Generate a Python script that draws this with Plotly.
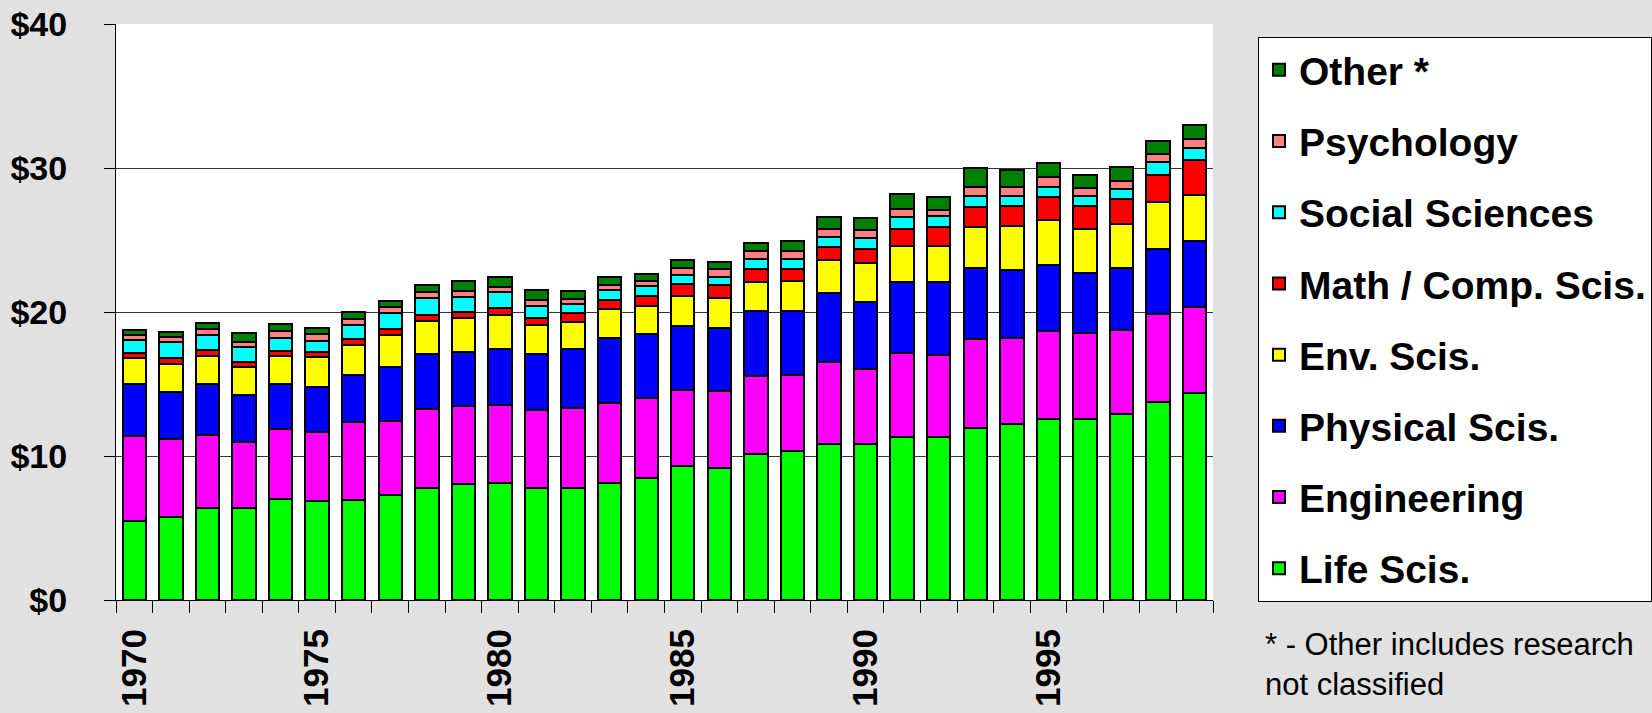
import plotly.graph_objects as go

years = list(range(1970, 2000))

life = [5.49, 5.76, 6.37, 6.37, 6.99, 6.88, 6.92, 7.31, 7.75, 8.08, 8.10, 7.80, 7.80, 8.10, 8.50,
        9.31, 9.17, 10.16, 10.35, 10.83, 10.81, 11.30, 11.30, 11.97, 12.22, 12.59, 12.59, 12.89, 13.75, 14.35]
engineering = [5.88, 5.40, 5.09, 4.60, 4.86, 4.81, 5.42, 5.14, 5.51, 5.39, 5.46, 5.42, 5.56, 5.58, 5.53,
               5.27, 5.32, 5.40, 5.25, 5.72, 5.21, 5.83, 5.69, 6.13, 6.00, 6.09, 5.93, 5.84, 6.13, 5.97]
physical = [3.65, 3.31, 3.52, 3.27, 3.15, 3.10, 3.29, 3.71, 3.80, 3.75, 3.89, 3.89, 4.09, 4.54, 4.47,
            4.47, 4.42, 4.51, 4.47, 4.75, 4.70, 4.98, 5.09, 4.93, 4.70, 4.56, 4.17, 4.30, 4.47, 4.61]
env = [1.81, 1.92, 1.99, 1.92, 1.97, 2.06, 2.06, 2.22, 2.29, 2.34, 2.36, 1.99, 1.88, 1.97, 1.94,
       2.06, 2.06, 2.01, 2.08, 2.29, 2.66, 2.50, 2.50, 2.90, 3.05, 3.13, 3.07, 3.06, 3.29, 3.22]
math_comp = [0.35, 0.39, 0.37, 0.34, 0.34, 0.35, 0.44, 0.44, 0.46, 0.44, 0.44, 0.48, 0.62, 0.67, 0.67,
             0.81, 0.88, 0.93, 0.86, 0.95, 1.00, 1.13, 1.35, 1.38, 1.39, 1.59, 1.62, 1.73, 1.86, 2.38]
social = [0.85, 1.11, 1.09, 1.05, 0.88, 0.81, 0.97, 1.09, 1.14, 1.06, 1.14, 0.86, 0.58, 0.67, 0.70,
          0.67, 0.58, 0.69, 0.69, 0.69, 0.78, 0.83, 0.76, 0.75, 0.70, 0.74, 0.68, 0.70, 0.89, 0.88]
psychology = [0.40, 0.40, 0.41, 0.34, 0.47, 0.46, 0.41, 0.41, 0.44, 0.42, 0.32, 0.39, 0.37, 0.35, 0.34,
              0.49, 0.53, 0.51, 0.51, 0.53, 0.53, 0.58, 0.39, 0.64, 0.64, 0.70, 0.55, 0.60, 0.61, 0.60]
other = [0.32, 0.34, 0.42, 0.67, 0.53, 0.44, 0.49, 0.44, 0.49, 0.67, 0.70, 0.70, 0.54, 0.53, 0.51,
         0.53, 0.54, 0.60, 0.72, 0.86, 0.84, 1.07, 0.93, 1.28, 1.16, 0.97, 0.88, 0.95, 0.90, 1.00]

series_names = ["Life Scis.", "Engineering", "Physical Scis.", "Env. Scis.",
                "Math / Comp. Scis.", "Social Sciences", "Psychology", "Other *"]
series_values = [life, engineering, physical, env, math_comp, social, psychology, other]
series_colors = ["#00ff00", "#ff00ff", "#0000ff", "#ffff00",
                 "#ff0000", "#00ffff", "#ff8080", "#008000"]

y_ticks = [0, 10, 20, 30, 40]
x_label_years = [1970, 1975, 1980, 1985, 1990, 1995]
footnote = "* - Other includes research<br>not classified"

FONT = "Liberation Sans, Arial, sans-serif"
BG = "#e1e1e1"

fig = go.Figure()
n = len(series_names)
for i, (name, vals, col) in enumerate(zip(series_names, series_values, series_colors)):
    fig.add_trace(go.Bar(
        x=years, y=vals, name=name, legendgroup=name,
        legendrank=n - i,
        width=0.64,
        marker=dict(color=col, line=dict(color="black", width=2)),
    ))

fig.update_layout(
    width=1652, height=713,
    barmode="stack",
    paper_bgcolor=BG,
    plot_bgcolor="white",
    margin=dict(l=116, r=439, t=24, b=113, autoexpand=False),
    font=dict(family=FONT, color="black"),
    showlegend=True,
    legend=dict(
        x=(1258 - 116) / 1097, xanchor="left",
        y=(600 - 37) / 576, yanchor="top",
        bgcolor="white", bordercolor="black", borderwidth=1,
        font=dict(family=FONT, size=39, weight="bold", color="black"),
        traceorder="grouped",
        tracegroupgap=17.5,
        itemclick=False,
    ),
    xaxis=dict(
        range=[1969.5, 1999.5],
        tickmode="array", tickvals=x_label_years,
        ticktext=[str(v) for v in x_label_years],
        ticks="", tickangle=-90,
        ticklabelstandoff=14,
        tickfont=dict(family=FONT, size=35, weight="bold", color="black"),
        showgrid=False, zeroline=False,
        showline=True, linecolor="black", linewidth=1,
        minor=dict(tickmode="array",
                   tickvals=[y - 0.5 for y in years] + [years[-1] + 0.5],
                   ticks="outside", ticklen=12, tickcolor="black", tickwidth=1,
                   showgrid=False),
    ),
    yaxis=dict(
        range=[0, 40],
        tickmode="array", tickvals=y_ticks,
        ticktext=["$%d" % v for v in y_ticks],
        ticks="outside", ticklen=11, tickcolor="black", tickwidth=1,
        ticklabelstandoff=30,
        tickfont=dict(family=FONT, size=34, weight="bold", color="black"),
        showgrid=True, gridcolor="#333333", gridwidth=1,
        zeroline=False,
        showline=True, linecolor="black", linewidth=1,
    ),
    annotations=[dict(
        text=footnote, xref="paper", yref="paper",
        x=(1263 - 116) / 1097, xanchor="left",
        y=(600 - 625) / 576, yanchor="top",
        align="left", showarrow=False,
        font=dict(family=FONT, size=31, color="black"),
    )],
)

fig.write_html(
    "out.html",
    config={"displayModeBar": False},
    post_script="document.body.style.margin='0';document.body.style.background='%s';"
                "document.documentElement.style.background='%s';" % (BG, BG),
)
